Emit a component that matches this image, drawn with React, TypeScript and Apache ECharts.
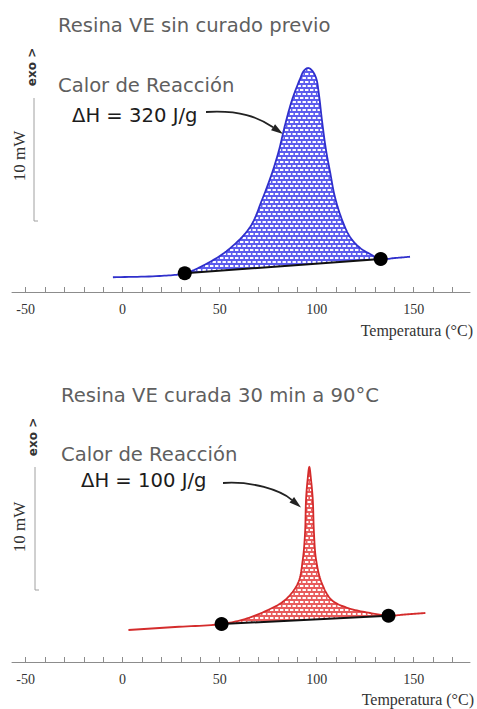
import React, { useEffect, useRef } from 'react';
import * as echarts from 'echarts';

// ---- axis ticks / labels ----
const xLabelValues = [-50, 0, 50, 100, 150];
const xTickValues = [-50, -40, -30, -20, -10, 0, 10, 20, 30, 40, 50, 60, 70, 80, 90, 100, 110, 120, 130, 140, 150, 160, 170];

// ---- top panel: uncured VE resin (temperature °C, heat flow mW) ----
const topTemp = [-5, 19, 32, 43, 54.3, 65.7, 71.8, 77.0, 80.6, 83.7, 87.3, 91.4, 93.5, 95.6, 97.6, 99.7, 101.2, 102.7, 104.8, 106.9, 109.4, 113.1, 117.2, 122.4, 127.5, 133, 140.4, 148.1];
const topHeat = [1.18, 1.28, 1.5, 2.24, 3.36, 5.2, 7.36, 9.52, 11.36, 13.36, 15.36, 17.04, 17.72, 17.92, 17.72, 17.12, 15.76, 13.76, 11.36, 9.6, 7.6, 5.76, 4.4, 3.52, 3.04, 2.64, 2.72, 2.82];
const topDotTemp = [32, 133];
const topDotHeat = [1.5, 2.64];

// ---- bottom panel: VE resin cured 30 min at 90°C ----
const botTemp = [3, 27, 51, 63.1, 74.9, 83.7, 90.4, 92.8, 94.0, 94.5, 95.3, 96.2, 97.1, 98.0, 98.6, 99.7, 102.6, 107.7, 116.1, 127.5, 137, 145.5, 156];
const botHeat = [2.56, 2.8, 3.04, 3.44, 4.16, 4.96, 6.32, 8.16, 10.32, 12.96, 14.56, 15.6, 14.56, 12.96, 10.32, 8.16, 6.32, 4.96, 4.32, 3.92, 3.7, 3.8, 3.92];
const botDotTemp = [51, 137];
const botDotHeat = [3.04, 3.7];

// ---- texts ----
const topTitle = 'Resina VE sin curado previo';
const botTitle = 'Resina VE curada 30 min a 90°C';
const heatLabel = 'Calor de Reacción';
const topDeltaH = 'ΔH = 320 J/g';
const botDeltaH = 'ΔH = 100 J/g';
const xName = 'Temperatura (°C)';
const scaleLabel = '10 mW';
const exoLabel = 'exo >';

const SANS = '"DejaVu Sans", Verdana, sans-serif';
const SERIF = '"Liberation Serif", "Times New Roman", serif';

function makePattern(bg: string, fg: string) {
  const c = document.createElement('canvas');
  c.width = 10;
  c.height = 8;
  const ctx = c.getContext('2d') as CanvasRenderingContext2D;
  ctx.fillStyle = bg;
  ctx.fillRect(0, 0, 10, 8);
  ctx.fillStyle = fg;
  ctx.fillRect(0, 1, 3.4, 2);
  ctx.fillRect(5, 1, 3.4, 2);
  ctx.fillRect(2.5, 5, 3.4, 2);
  ctx.fillRect(7.5, 5, 3.4, 2);
  ctx.fillRect(-2.5, 5, 3.4, 2);
  return { image: c, repeat: 'repeat', imageWidth: 10, imageHeight: 8 };
}

type Pt = number[];

// centripetal Catmull-Rom sampling of screen points (rendering only)
function crSegment(p0: Pt, p1: Pt, p2: Pt, p3: Pt, n: number, out: Pt[]) {
  const d = (a: Pt, b: Pt) => Math.max(1e-4, Math.pow(Math.hypot(b[0] - a[0], b[1] - a[1]), 0.5));
  const t0 = 0;
  const t1 = t0 + d(p0, p1);
  const t2 = t1 + d(p1, p2);
  const t3 = t2 + d(p2, p3);
  const lerp = (a: Pt, b: Pt, ta: number, tb: number, t: number) => {
    const wa = (tb - t) / (tb - ta);
    const wb = (t - ta) / (tb - ta);
    return [a[0] * wa + b[0] * wb, a[1] * wa + b[1] * wb];
  };
  for (let j = 0; j < n; j++) {
    const t = t1 + ((t2 - t1) * j) / n;
    const A1 = lerp(p0, p1, t0, t1, t);
    const A2 = lerp(p1, p2, t1, t2, t);
    const A3 = lerp(p2, p3, t2, t3, t);
    const B1 = lerp(A1, A2, t0, t2, t);
    const B2 = lerp(A2, A3, t1, t3, t);
    out.push(lerp(B1, B2, t1, t2, t));
  }
}

function smoothPath(pts: Pt[], from: number, to: number): Pt[] {
  const out: Pt[] = [];
  const n = pts.length;
  const get = (i: number): Pt => {
    if (i < 0) return [2 * pts[0][0] - pts[1][0], 2 * pts[0][1] - pts[1][1]];
    if (i >= n) return [2 * pts[n - 1][0] - pts[n - 2][0], 2 * pts[n - 1][1] - pts[n - 2][1]];
    return pts[i];
  };
  for (let i = from; i < to; i++) {
    crSegment(get(i - 1), get(i), get(i + 1), get(i + 2), 12, out);
  }
  out.push(pts[to]);
  return out;
}

function panelSeries(
  g: number,
  temps: number[],
  heats: number[],
  dotT: number[],
  dotH: number[],
  lineColor: string,
  pattern: any
) {
  const iL = temps.indexOf(dotT[0]);
  const iR = temps.indexOf(dotT[1]);
  return [
    {
      type: 'custom',
      xAxisIndex: g,
      yAxisIndex: g,
      data: temps.map((t, i) => [t, heats[i]]),
      silent: true,
      z: 1,
      clip: false,
      renderItem: (params: any, api: any) => {
        if (params.dataIndex !== 0) return null;
        const pts = temps.map((t, i) => api.coord([t, heats[i]]));
        const fillPts = smoothPath(pts, iL, iR);
        const linePts = smoothPath(pts, 0, pts.length - 1);
        return {
          type: 'group',
          children: [
            { type: 'polygon', shape: { points: fillPts }, style: { fill: pattern, stroke: null } },
            { type: 'polyline', shape: { points: linePts }, style: { stroke: lineColor, lineWidth: 1.8, fill: null } },
          ],
        };
      },
    },
    {
      type: 'line', xAxisIndex: g, yAxisIndex: g, data: dotT.map((t, i) => [t, dotH[i]]),
      symbol: 'circle', symbolSize: 14, itemStyle: { color: '#000' },
      lineStyle: { color: '#111', width: 2 }, silent: true, z: 3,
    },
  ];
}

function xAxisDef(g: number) {
  return {
    type: 'value', gridIndex: g, min: -57, max: 179,
    axisLine: { show: true, onZero: false, lineStyle: { color: '#8c8c8c', width: 1 } },
    axisTick: { show: true, inside: true, length: 5, customValues: xTickValues, lineStyle: { color: '#8c8c8c' } },
    axisLabel: { customValues: xLabelValues, fontFamily: SERIF, fontSize: 14, color: '#333', margin: 10 },
    splitLine: { show: false },
  };
}

function yAxisDef(g: number) {
  return { type: 'value', gridIndex: g, min: 0, max: 20, show: false };
}

function txt(x: number, y: number, text: string, opts: any = {}) {
  return {
    type: 'text', x, y, rotation: opts.rotation || 0, silent: true,
    style: {
      text, fill: opts.fill || '#5f5f5f', fontSize: opts.fontSize || 19.6,
      fontFamily: opts.fontFamily || SANS, fontWeight: opts.fontWeight || 'normal',
      align: opts.align || 'left', verticalAlign: 'middle',
    },
  };
}

function scaleBar(x: number, y1: number, y2: number) {
  return [
    { type: 'line', silent: true, shape: { x1: x, y1, x2: x, y2 }, style: { stroke: '#a0a0a0', lineWidth: 1 } },
    { type: 'line', silent: true, shape: { x1: x, y1: y2, x2: x + 4, y2 }, style: { stroke: '#a0a0a0', lineWidth: 1 } },
  ];
}

function arrow(sx: number, sy: number, c1x: number, c1y: number, c2x: number, c2y: number, tx: number, ty: number) {
  const dx = tx - c2x;
  const dy = ty - c2y;
  const len = Math.sqrt(dx * dx + dy * dy);
  const ux = dx / len;
  const uy = dy / len;
  const L = 12;
  const W = 3.6;
  const bx = tx - ux * L;
  const by = ty - uy * L;
  return [
    {
      type: 'bezierCurve', silent: true,
      shape: { x1: sx, y1: sy, cpx1: c1x, cpy1: c1y, cpx2: c2x, cpy2: c2y, x2: bx, y2: by },
      style: { stroke: '#222', lineWidth: 1.8, fill: null },
    },
    {
      type: 'polygon', silent: true,
      shape: { points: [[tx, ty], [bx - uy * W, by + ux * W], [bx + uy * W, by - ux * W]] },
      style: { fill: '#222' },
    },
  ];
}

export default function App() {
  const ref = useRef<HTMLDivElement>(null);
  useEffect(() => {
    if (!ref.current) return;
    const chart = echarts.init(ref.current, null, { renderer: 'svg' });
    const bluePattern = makePattern('#5c5cee', '#ffffff');
    const redPattern = makePattern('#e85c5c', '#ffffff');
    chart.setOption({
      animation: false,
      backgroundColor: '#ffffff',
      grid: [
        { left: 12, right: 7, top: 42, height: 250, outerBoundsMode: 'none' },
        { left: 12, right: 7, top: 412, height: 250, outerBoundsMode: 'none' },
      ],
      xAxis: [xAxisDef(0), xAxisDef(1)],
      yAxis: [yAxisDef(0), yAxisDef(1)],
      series: [
        ...panelSeries(0, topTemp, topHeat, topDotTemp, topDotHeat, '#3030cc', bluePattern),
        ...panelSeries(1, botTemp, botHeat, botDotTemp, botDotHeat, '#d42c2c', redPattern),
      ],
      graphic: [
        // top panel
        txt(58, 25, topTitle),
        txt(58, 85, heatLabel),
        txt(72, 115, topDeltaH, { fill: '#1c1c1c' }),
        txt(32, 67, exoLabel, { rotation: Math.PI / 2, align: 'center', fontSize: 12, fontWeight: 'bold', fill: '#333' }),
        ...scaleBar(34, 98, 221),
        txt(19, 156, scaleLabel, { rotation: Math.PI / 2, align: 'center', fontSize: 17, fontFamily: SERIF, fill: '#333' }),
        ...arrow(206, 112, 240, 110, 258, 117, 283, 134),
        txt(473, 330, xName, { align: 'right', fontSize: 16, fontFamily: SERIF, fill: '#333' }),
        // bottom panel
        txt(61, 395, botTitle),
        txt(61, 454, heatLabel),
        txt(81, 480, botDeltaH, { fill: '#1c1c1c' }),
        txt(33, 437, exoLabel, { rotation: Math.PI / 2, align: 'center', fontSize: 12, fontWeight: 'bold', fill: '#333' }),
        ...scaleBar(35, 467, 590),
        txt(19, 527, scaleLabel, { rotation: Math.PI / 2, align: 'center', fontSize: 17, fontFamily: SERIF, fill: '#333' }),
        ...arrow(223, 483, 252, 481, 280, 490, 301, 507.5),
        txt(474, 699, xName, { align: 'right', fontSize: 16, fontFamily: SERIF, fill: '#333' }),
      ],
    });
    return () => chart.dispose();
  }, []);
  return <div ref={ref} style={{ position: 'fixed', left: 0, top: 0, width: 477, height: 709 }} />;
}
